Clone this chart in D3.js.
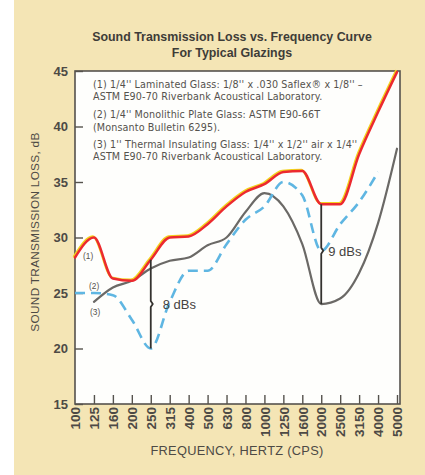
<!DOCTYPE html>
<html>
<head>
<meta charset="utf-8">
<script src="https://cdn.jsdelivr.net/npm/d3@7"></script>
<style>
  html, body { margin: 0; padding: 0; background: #ffffff; }
  svg { display: block; font-family: "Liberation Sans", Arial, sans-serif; }
</style>
</head>
<body>
<svg id="chart" width="425" height="475"></svg>
<script>
// Third-octave band centre frequencies (Hz)
const frequencies = ["100","125","160","200","250","315","400","500","630","800","1000","1250","1600","2000","2500","3150","4000","5000"];

// Sound transmission loss, dB, per band
// (1) 1/4" laminated glass
const laminated = [28.2, 30, 26.3, 26.1, 28, 30, 30.1, 31.2, 32.8, 34.1, 34.8, 35.9, 36, 33, 33, 37.5, 41.3, 44.9];
// (2) 1/4" monolithic plate glass (measured up to 4000 Hz)
const monolithic = [25, 25, 24.8, 22.6, 20, 24.2, 27, 27, 29.4, 31.6, 32.8, 35, 33.8, 28.8, 31.2, 33.2, 35.9];
// (3) 1" thermal insulating glass (from 125 Hz)
const thermal = [null, 24.2, 25.5, 26.1, 27.2, 27.9, 28.2, 29.3, 30, 32.3, 34, 32.8, 29.4, 24, 24.5, 26.8, 31.3, 38];

const yTicks = [15, 20, 25, 30, 35, 40, 45];

const legendLines = [
  "(1)  1/4'' Laminated Glass:  1/8'' x .030 Saflex\u00AE x 1/8'' \u2013",
  "ASTM E90-70 Riverbank Acoustical Laboratory.",
  "(2)  1/4'' Monolithic Plate Glass:  ASTM E90-66T",
  "(Monsanto Bulletin 6295).",
  "(3)  1'' Thermal Insulating Glass:  1/4'' x 1/2'' air x 1/4''",
  "ASTM E90-70 Riverbank Acoustical Laboratory."
];

const svg = d3.select("#chart");
const W = 425, H = 475;
const plot = { left: 75, right: 400, top: 71, bottom: 404 };

// page tint
svg.append("rect").attr("x", 14).attr("y", 0).attr("width", W - 14).attr("height", H)
  .attr("fill", "#f4e5b5");

const x = d3.scalePoint().domain(frequencies).range([75, 397]);
const y = d3.scaleLinear().domain([15, 45]).range([plot.bottom, plot.top]);

const ink = "#4d4a45";

// plot area
svg.append("rect")
  .attr("x", plot.left).attr("y", plot.top)
  .attr("width", plot.right - plot.left).attr("height", plot.bottom - plot.top)
  .attr("fill", "#fefefc").attr("stroke", "#55524d").attr("stroke-width", 1.6);

// title
const title = svg.append("text").attr("x", 232).attr("text-anchor", "middle")
  .attr("font-weight", "bold").attr("font-size", 12.4).attr("fill", "#3e3c38");
title.append("tspan").attr("x", 232).attr("y", 41).text("Sound Transmission Loss vs. Frequency Curve");
title.append("tspan").attr("x", 232).attr("y", 57).text("For Typical Glazings");

// y axis: ticks point inward
const yAxis = d3.axisLeft(y).tickValues(yTicks).tickSize(-8).tickPadding(7);
const gy = svg.append("g").attr("transform", `translate(${plot.left},0)`).call(yAxis);
gy.select(".domain").remove();
gy.selectAll(".tick line").attr("stroke", "#55524d").attr("stroke-width", 1.4);
gy.selectAll(".tick text").attr("font-size", 13).attr("font-weight", "bold")
  .attr("fill", ink).attr("font-family", "Liberation Sans, Arial, sans-serif");

// x axis: ticks point inward, labels rotated
const xAxis = d3.axisBottom(x).tickSize(-9).tickPadding(0);
const gx = svg.append("g").attr("transform", `translate(0,${plot.bottom})`).call(xAxis);
gx.select(".domain").remove();
gx.selectAll(".tick line").attr("stroke", "#55524d").attr("stroke-width", 1.4);
gx.selectAll(".tick").filter((d, i) => i === 0).select("line").remove();
gx.selectAll(".tick text")
  .attr("font-size", 13.5).attr("font-weight", "bold").attr("fill", ink)
  .attr("font-family", "Liberation Sans, Arial, sans-serif")
  .attr("text-anchor", "end").attr("dy", "0.35em")
  .attr("transform", "translate(0,3) rotate(-90)")
  .attr("x", 0).attr("y", 0);

// axis titles
svg.append("text").attr("x", 237).attr("y", 455).attr("text-anchor", "middle")
  .attr("font-size", 12.8).attr("fill", ink).attr("letter-spacing", 0.3)
  .text("FREQUENCY, HERTZ (CPS)");
svg.append("text").attr("transform", "translate(39,232) rotate(-90)")
  .attr("text-anchor", "middle").attr("font-size", 11.8).attr("fill", ink)
  .attr("letter-spacing", 0.3)
  .text("SOUND TRANSMISSION LOSS, dB");

// legend block inside the plot
const legend = svg.append("text").attr("font-size", 9.6).attr("fill", "#55524d")
  .attr("font-family", "DejaVu Sans, sans-serif").attr("letter-spacing", 0.12);
const legendY = [88, 100, 118, 131, 148, 160];
legendLines.forEach((t, i) => {
  legend.append("tspan").attr("x", 93).attr("y", legendY[i]).text(t);
});

// curves
const line = d3.line()
  .defined(d => d != null)
  .x((d, i) => x(frequencies[i]))
  .y(d => y(d))
  .curve(d3.curveMonotoneX);

const curves = svg.append("g").attr("fill", "none").attr("stroke-linecap", "round").attr("stroke-linejoin", "round");

curves.append("path").datum(thermal).attr("d", line)
  .attr("stroke", "#6b6966").attr("stroke-width", 2.2);

curves.append("path").datum(monolithic).attr("d", line)
  .attr("stroke", "#5fb6e2").attr("stroke-width", 2.6)
  .attr("stroke-dasharray", "10,6").attr("stroke-linecap", "butt");

// laminated: red ink with a slight yellow offset edge
curves.append("path").datum(laminated).attr("d", line)
  .attr("stroke", "#f2d21e").attr("stroke-width", 2.2)
  .attr("transform", "translate(-1.1,-1.1)");
curves.append("path").datum(laminated).attr("d", line)
  .attr("stroke", "#ec2a2f").attr("stroke-width", 2.5);

// difference markers with a small brace notch
function difference(idx, topVal, bottomVal, notchVal, labelDx) {
  const cx = x(frequencies[idx]);
  const y0 = y(topVal), y1 = y(bottomVal), yn = y(notchVal);
  svg.append("path")
    .attr("d", `M${cx},${y0} L${cx},${yn - 3} L${cx + 2},${yn} L${cx},${yn + 3} L${cx},${y1}`)
    .attr("fill", "none").attr("stroke", "#34322f").attr("stroke-width", 1.8);
  svg.append("text").attr("x", cx + labelDx).attr("y", yn).attr("dy", "0.36em")
    .attr("font-size", 13).attr("fill", "#45433f")
    .text(`${Math.round(topVal - bottomVal)} dBs`);
}
difference(4, laminated[4], monolithic[4], (laminated[4] + monolithic[4]) / 2, 12);
difference(13, laminated[13], thermal[13], monolithic[13], 7);

// curve identifiers
const idLabels = svg.append("g").attr("font-size", 8.3).attr("fill", "#55524d");
idLabels.append("text").attr("x", 83).attr("y", 259).text("(1)");
idLabels.append("text").attr("x", 89).attr("y", 289).text("(2)");
idLabels.append("text").attr("x", 90).attr("y", 315).text("(3)");
</script>
</body>
</html>
